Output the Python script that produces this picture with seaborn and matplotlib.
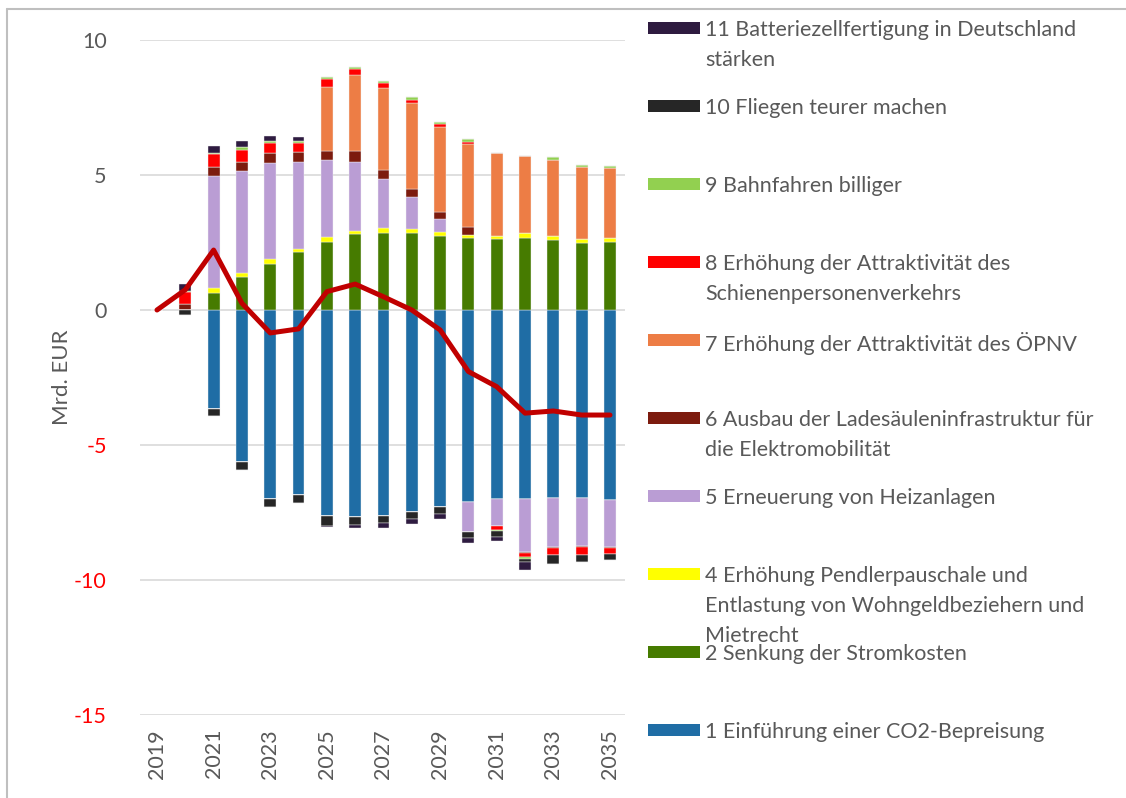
import numpy as np
import matplotlib
matplotlib.use("Agg")
import matplotlib.pyplot as plt
import seaborn as sns
from matplotlib.lines import Line2D
from matplotlib.patches import Rectangle

# ======================
# 数据
# ======================

years = list(range(2019, 2036))

m1_co2 = [0, 0, -3.68, -5.64, -7.00, -6.85, -7.62, -7.65, -7.62, -7.47, -7.28, -7.12, -7.00, -7.00, -6.95, -6.95, -7.04]
m2_strom = [0, 0, 0.64, 1.23, 1.70, 2.14, 2.51, 2.80, 2.84, 2.84, 2.75, 2.65, 2.62, 2.65, 2.59, 2.47, 2.51]
m4_pendler = [0, 0, 0.16, 0.15, 0.19, 0.13, 0.18, 0.14, 0.18, 0.15, 0.14, 0.13, 0.12, 0.19, 0.15, 0.16, 0.14]
m5_heizung = [0, 0, 4.17, 3.78, 3.57, 3.22, 2.87, 2.55, 1.82, 1.18, 0.47, -1.11, -0.99, -1.98, -1.82, -1.79, -1.75]
m6_lade = [0, 0.22, 0.33, 0.33, 0.34, 0.35, 0.33, 0.40, 0.35, 0.30, 0.28, 0.31, 0, -0.03, -0.03, -0.03, -0.04]
m7_oepnv = [0, 0, 0, 0, 0, 0, 2.38, 2.81, 3.02, 3.18, 3.15, 3.05, 3.06, 2.86, 2.82, 2.68, 2.62]
m8_schiene = [0, 0.45, 0.49, 0.44, 0.37, 0.33, 0.27, 0.23, 0.19, 0.13, 0.09, 0.09, -0.16, -0.15, -0.28, -0.30, -0.21]
m9_bahn = [0, 0.03, 0.04, 0.09, 0.08, 0.08, 0.08, 0.08, 0.09, 0.10, 0.10, 0.09, -0.05, -0.08, 0.09, 0.06, 0.06]
m10_fliegen = [0, -0.20, -0.25, -0.29, -0.31, -0.31, -0.38, -0.31, -0.28, -0.27, -0.29, -0.23, -0.20, -0.10, -0.31, -0.26, -0.22]
m11_batterie = [0, 0.25, 0.23, 0.25, 0.21, 0.16, -0.03, -0.12, -0.17, -0.19, -0.17, -0.18, -0.15, -0.28, 0, 0, 0]

saldo = [0, 0.75, 2.22, 0.25, -0.85, -0.70, 0.68, 0.96, 0.49, 0.0, -0.74, -2.28, -2.84, -3.82, -3.74, -3.89, -3.89]

series = [m1_co2, m2_strom, m4_pendler, m5_heizung, m6_lade, m7_oepnv,
          m8_schiene, m9_bahn, m10_fliegen, m11_batterie]

labels = [
    "1 Einführung einer CO2-Bepreisung",
    "2 Senkung der Stromkosten",
    "4 Erhöhung Pendlerpauschale und\nEntlastung von Wohngeldbeziehern und\nMietrecht",
    "5 Erneuerung von Heizanlagen",
    "6 Ausbau der Ladesäuleninfrastruktur für\ndie Elektromobilität",
    "7 Erhöhung der Attraktivität des ÖPNV",
    "8 Erhöhung der Attraktivität des\nSchienenpersonenverkehrs",
    "9 Bahnfahren billiger",
    "10 Fliegen teurer machen",
    "11 Batteriezellfertigung in Deutschland\nstärken",
]

colors = ["#1f6da5", "#467b00", "#ffff00", "#ba9dd4", "#7c1b0e", "#ed7d45",
          "#ff0000", "#92d050", "#262626", "#2e1b40"]

y_ticks = [10, 5, 0, -5, -10, -15]

# ======================
# 图
# ======================

sns.set_theme(style="white")
plt.rcParams["font.family"] = ["Lato", "DejaVu Sans"]

fig = plt.figure(figsize=(11.26, 7.98), dpi=100)
ax = fig.add_axes([140 / 1126, 83 / 798, 485 / 1126, 675 / 798])

x = np.arange(len(years))
pos_bottom = np.zeros(len(years))
neg_bottom = np.zeros(len(years))
for vals, col in zip(series, colors):
    v = np.array(vals, dtype=float)
    pos = np.where(v > 0, v, 0)
    neg = np.where(v < 0, v, 0)
    ax.bar(x, pos, 0.42, bottom=pos_bottom, color=col, edgecolor="#f2f2f2", linewidth=0.3, zorder=2)
    ax.bar(x, neg, 0.42, bottom=neg_bottom, color=col, edgecolor="#f2f2f2", linewidth=0.3, zorder=2)
    pos_bottom += pos
    neg_bottom += neg

sns.lineplot(x=x, y=saldo, ax=ax, color="#c00000", linewidth=3.6, zorder=3,
             solid_capstyle="round", solid_joinstyle="round")

ax.set_xlim(-0.6, 16.53)
ax.set_ylim(-15, 10)
ax.set_yticks(y_ticks)
ax.set_yticklabels([str(t) for t in y_ticks], fontsize=15.5)
for lab, t in zip(ax.get_yticklabels(), y_ticks):
    lab.set_color("#595959" if t >= 0 else "#ff0000")
ax.tick_params(axis="y", pad=24, length=0)
ax.set_xticks(x[::2])
ax.set_xticklabels([str(y) for y in years[::2]], rotation=90, fontsize=15.5, color="#595959")
ax.tick_params(axis="x", pad=10, length=0)
ax.yaxis.grid(True, color="#d9d9d9", linewidth=1.2, zorder=0)
ax.set_axisbelow(True)
for s in ax.spines.values():
    s.set_visible(False)
ax.set_ylabel("Mrd. EUR", fontsize=16, color="#595959", labelpad=1.5)

# Legende rechts, von oben nach unten: 11 ... 1
leg_y0 = 28
leg_step = 78
for i, (lab, col) in enumerate(zip(labels[::-1], colors[::-1])):
    yc = leg_y0 + i * leg_step
    fig.patches.append(Rectangle((648 / 1126, 1 - (yc + 6) / 798), 52 / 1126, 12 / 798,
                                 transform=fig.transFigure, facecolor=col, edgecolor="none"))
    fig.text(705 / 1126, 1 - (yc - 8) / 798, lab, fontsize=15.5, color="#595959",
             va="top", ha="left", linespacing=1.62)

# Rahmen
fig.add_artist(Line2D([7 / 1126, 1], [1 - 9 / 798, 1 - 9 / 798], transform=fig.transFigure,
                      color="#bfbfbf", linewidth=1.5))
fig.add_artist(Line2D([7 / 1126, 7 / 1126], [0, 1 - 9 / 798], transform=fig.transFigure,
                      color="#bfbfbf", linewidth=1.5))

fig.savefig("out.png", dpi=100)
